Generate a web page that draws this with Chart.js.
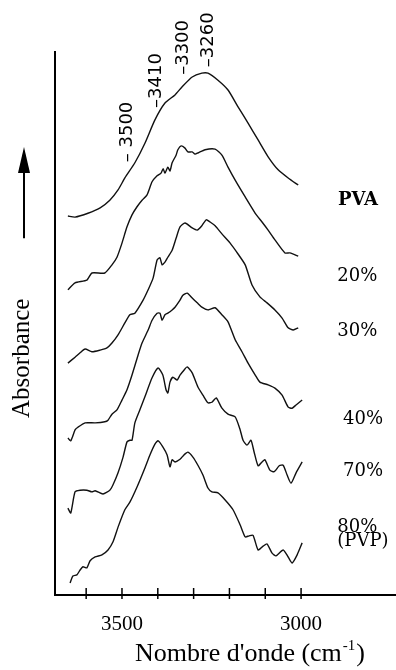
<!DOCTYPE html>
<html><head><meta charset="utf-8">
<script src="https://cdn.jsdelivr.net/npm/chart.js@4.4.1/dist/chart.umd.min.js"></script>
<style>html,body{margin:0;padding:0;background:#fff;}canvas{display:block;}</style>
</head><body>
<canvas id="c" width="396" height="670"></canvas>
<script>
// ---- data (wavenumber cm-1, relative absorbance with vertical offsets) ----
const wnPVA  = [3651,3631,3595,3561,3534,3511,3492,3464,3436,3408,3380,3352,3332,3304,3277,3260,3232,3204,3176,3148,3120,3092,3064,3036,3008];
const absPVA = [69.8,69.6,70.3,71.3,72.7,74.6,76.8,79.6,83.2,87.5,90.6,92.1,93.6,95.4,96.1,96.1,94.8,93.0,89.9,86.9,83.8,80.7,78.3,76.8,75.5];

const wn20  = [3651,3631,3598,3584,3548,3528,3514,3500,3486,3472,3458,3444,3430,3416,3402,3391,3385,3380,3372,3366,3360,3349,3344,3335,3324,3316,3304,3296,3288,3268,3240,3221,3204,3184,3156,3128,3109,3092,3073,3045,3031,3008];
const abs20 = [56.2,57.5,58.0,59.3,59.3,60.8,62.2,64.8,67.8,70.0,71.5,72.7,73.7,76.1,77.2,77.7,78.5,77.7,78.8,78.1,79.6,81.0,82.0,82.7,82.3,81.6,81.6,81.2,81.4,82.0,82.1,81.0,78.8,76.4,73.3,70.3,68.7,67.2,65.4,63.0,63.0,62.4];

const wn30  = [3651,3631,3617,3603,3584,3561,3542,3528,3511,3492,3478,3464,3441,3427,3413,3402,3394,3388,3380,3372,3360,3349,3338,3324,3304,3290,3277,3265,3254,3240,3221,3198,3176,3156,3137,3115,3095,3073,3053,3036,3022,3008];
const abs30 = [42.7,43.8,44.6,45.3,44.8,45.1,45.5,46.4,47.9,50.1,51.6,51.9,54.3,56.2,58.4,61.7,62.1,60.8,61.3,62.2,63.5,65.7,67.8,68.5,67.6,67.2,68.0,69.1,68.7,68.0,66.5,64.8,62.8,60.8,57.1,54.9,53.8,52.5,51.0,49.2,48.8,49.2];

const wn40  = [3651,3643,3631,3623,3603,3575,3548,3539,3528,3514,3500,3486,3472,3455,3444,3427,3416,3402,3394,3388,3380,3372,3360,3352,3338,3330,3318,3304,3290,3277,3260,3240,3221,3204,3184,3165,3148,3128,3115,3092,3073,3053,3036,3025,3014,2997];
const abs40 = [28.9,28.4,30.4,30.9,31.7,31.7,31.9,32.2,33.3,34.1,35.9,37.8,40.5,44.2,46.4,48.8,50.6,51.9,51.9,50.6,51.6,51.9,52.5,53.0,54.3,55.2,55.6,54.7,53.8,53.0,52.5,52.9,51.6,50.3,47.0,44.8,42.7,40.5,39.2,38.7,38.1,36.8,34.6,34.4,35.0,35.9];

const wn70  = [3651,3643,3631,3617,3598,3584,3575,3553,3534,3525,3511,3497,3486,3478,3472,3464,3450,3436,3416,3399,3386,3377,3372,3366,3358,3346,3338,3327,3318,3304,3288,3274,3260,3249,3237,3221,3204,3184,3170,3162,3151,3140,3131,3120,3109,3101,3087,3075,3061,3050,3039,3028,3014,2997];
const abs70 = [16.0,15.1,19.0,19.3,19.3,19.0,19.2,18.6,19.3,20.3,22.5,25.4,28.2,28.5,28.5,31.7,34.1,36.5,40.0,41.8,40.5,37.8,37.2,39.2,40.1,39.6,40.5,41.4,42.0,40.9,38.3,36.8,35.4,35.5,36.3,34.4,33.3,32.8,30.4,28.5,27.6,28.5,26.3,23.8,24.5,24.9,23.0,22.7,23.8,23.9,22.1,20.6,22.5,24.5];

const wn80  = [3645,3637,3626,3617,3609,3598,3589,3575,3556,3539,3525,3511,3492,3478,3458,3436,3422,3408,3399,3386,3374,3366,3360,3352,3338,3327,3316,3302,3288,3274,3260,3249,3232,3212,3190,3170,3156,3145,3134,3120,3106,3095,3081,3070,3050,3036,3025,3011,2997];
const abs80 = [2.2,3.5,3.7,4.6,5.2,5.0,6.3,7.0,7.4,8.3,9.8,12.5,15.7,17.1,19.9,23.4,25.8,27.8,28.4,27.3,25.8,23.6,24.9,24.5,25.0,25.8,26.3,25.4,23.9,22.1,19.7,19.0,18.8,17.5,15.7,12.9,10.7,10.9,11.0,8.3,9.0,9.4,7.7,7.2,8.3,7.0,5.9,7.4,9.6];

const seriesNames = ['PVA','20%','30%','40%','70%','80% (PVP)'];

// x axis ticks and labels
const xTickValues = [3600,3500,3400,3300,3200,3100,3000];
const xTickLabels = ['', '3500', '', '', '', '', '3000'];
const xTitleMain = "Nombre d'onde (cm";
const xTitleSup = "-1";
const xTitleEnd = ")";
const yTitle = "Absorbance";

// band markers (text, wavenumber, absorbance anchor)
const bandLabels = ['\u2013 3500', '\u20133410', '\u20133300', '\u20133260'];
const bandWn = [3486, 3405, 3330, 3260];
const bandAbs = [79.7, 89.7, 95.8, 97.2];

// curve labels
const curveLabels = [['PVA'], ['20%'], ['30%'], ['40%'], ['70%'], ['80%', '(PVP)']];
const curveLabelWn = [2897, 2899, 2899, 2883, 2883, 2899];
const curveLabelAbs = [72.6, 58.6, 48.6, 32.4, 22.8, 12.4];

// ---- chart ----
const allWn = [wnPVA, wn20, wn30, wn40, wn70, wn80];
const allAbs = [absPVA, abs20, abs30, abs40, abs70, abs80];

const datasets = seriesNames.map((name, k) => ({
  label: name,
  data: allWn[k].map((w, i) => ({x: w, y: allAbs[k][i]})),
  borderColor: '#111',
  borderWidth: 1.4,
  pointRadius: 0,
  tension: 0.2,
  fill: false
}));

const deco = {
  id: 'deco',
  afterDraw(chart) {
    const {ctx, chartArea: a, scales: {x, y}} = chart;
    ctx.save();
    ctx.strokeStyle = '#000';
    ctx.fillStyle = '#000';
    // tick marks crossing the axis
    ctx.lineWidth = 1.5;
    xTickValues.forEach(v => {
      const px = x.getPixelForValue(v);
      ctx.beginPath(); ctx.moveTo(px, a.bottom - 7); ctx.lineTo(px, a.bottom + 4); ctx.stroke();
    });
    // band labels (rotated)
    ctx.font = '18px "DejaVu Sans"';
    ctx.textAlign = 'left'; ctx.textBaseline = 'middle';
    bandLabels.forEach((t, i) => {
      ctx.save();
      ctx.translate(x.getPixelForValue(bandWn[i]), y.getPixelForValue(bandAbs[i]));
      ctx.rotate(-Math.PI / 2);
      ctx.fillText(t, 0, 0);
      ctx.restore();
    });
    // curve labels
    curveLabels.forEach((lines, i) => {
      ctx.font = (i === 0 ? 'bold ' : '') + '18px "DejaVu Serif"';
      const px = x.getPixelForValue(curveLabelWn[i]);
      const py = y.getPixelForValue(curveLabelAbs[i]);
      lines.forEach((t, j) => ctx.fillText(t, px, py + j * 14));
    });
    // x title with superscript
    const ty = a.bottom + 59;
    ctx.font = '26px "Liberation Serif"';
    const w1 = ctx.measureText(xTitleMain).width;
    const w3 = ctx.measureText(xTitleEnd).width;
    ctx.font = '15px "Liberation Serif"';
    const w2 = ctx.measureText(xTitleSup).width;
    let tx = a.left + 194 - (w1 + w2 + w3) / 2;
    ctx.font = '26px "Liberation Serif"';
    ctx.fillText(xTitleMain, tx, ty);
    ctx.font = '15px "Liberation Serif"';
    ctx.fillText(xTitleSup, tx + w1 + 1, ty - 8);
    ctx.font = '26px "Liberation Serif"';
    ctx.fillText(xTitleEnd, tx + w1 + w2 + 2, ty);
    // y title, rotated
    ctx.save();
    ctx.translate(a.left - 33, y.getPixelForValue(43.6));
    ctx.rotate(-Math.PI / 2);
    ctx.textAlign = 'center';
    ctx.font = '25px "Liberation Serif"';
    ctx.fillText(yTitle, 0, 0);
    ctx.restore();
    // arrow
    const ax = a.left - 31;
    const yTop = y.getPixelForValue(82.5), yBot = y.getPixelForValue(65.7);
    ctx.lineWidth = 2;
    ctx.beginPath(); ctx.moveTo(ax, yBot); ctx.lineTo(ax, yTop + 20); ctx.stroke();
    ctx.beginPath(); ctx.moveTo(ax, yTop); ctx.lineTo(ax - 6, yTop + 26); ctx.lineTo(ax + 6, yTop + 26); ctx.closePath(); ctx.fill();
    ctx.restore();
  }
};

new Chart(document.getElementById('c'), {
  type: 'line',
  data: {datasets},
  plugins: [deco],
  options: {
    responsive: false,
    animation: false,
    devicePixelRatio: 1,
    layout: {padding: {left: 55, top: 52, right: 0, bottom: 15.8}},
    plugins: {legend: {display: false}, tooltip: {enabled: false}},
    scales: {
      x: {
        type: 'linear', min: 2735, max: 3687, reverse: true,
        afterBuildTicks: s => { s.ticks = xTickValues.map(v => ({value: v})); },
        ticks: {
          callback: (v) => { const i = xTickValues.indexOf(v); return i >= 0 ? xTickLabels[i] : ''; },
          font: {family: 'Liberation Serif', size: 21}, color: '#000', padding: 17,
          maxRotation: 0, autoSkip: false
        },
        grid: {display: false, drawTicks: false},
        border: {display: true, color: '#000', width: 2}
      },
      y: {
        min: 0, max: 100,
        ticks: {display: false},
        grid: {display: false, drawTicks: false},
        border: {display: true, color: '#000', width: 2}
      }
    }
  }
});
</script>
</body></html>
